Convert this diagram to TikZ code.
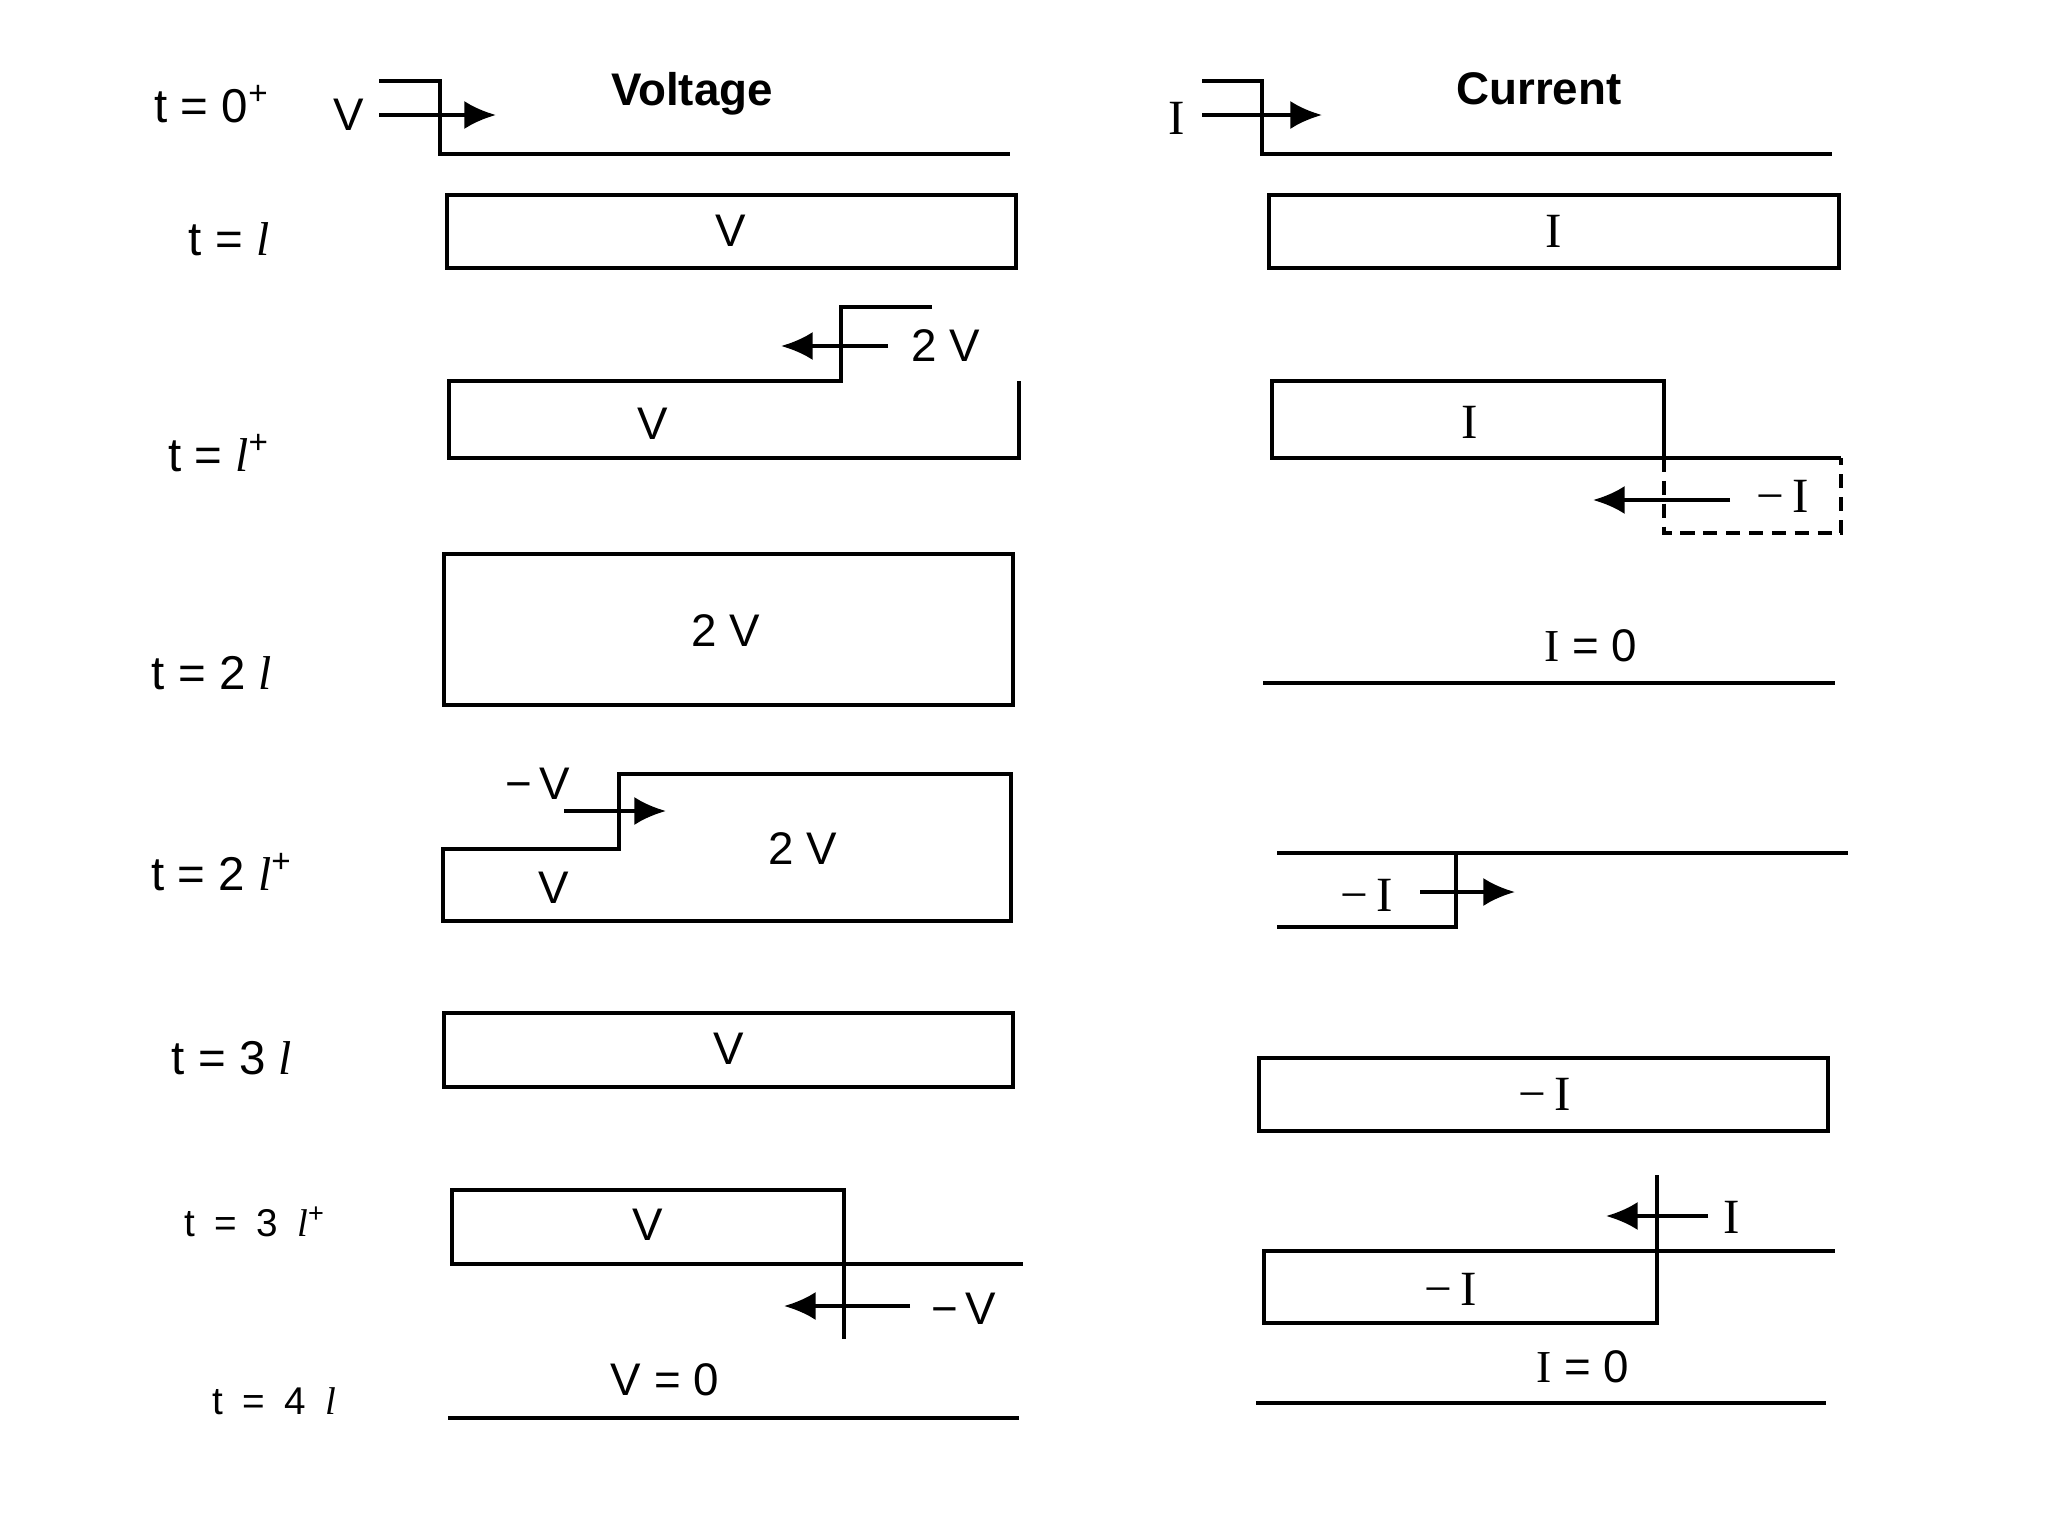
\documentclass[tikz,border=0pt]{standalone}
\usepackage{fontspec}
\setmainfont{Liberation Sans}
\newfontfamily\serf{Liberation Serif}
\usetikzlibrary{arrows.meta}
\newcommand{\lenl}{{\serf\itshape l}}
\newcommand{\wsp}{\hspace{0.5em}}

\begin{document}
\begin{tikzpicture}[x=0.01cm, y=-0.01cm, >={Latex[length=9pt,width=8pt]}, line width=1.15pt,
  refl/.style={dash pattern=on 4pt off 2.5pt},
  tlab/.style={font=\fontsize{13.5}{16}\selectfont},
  tsmall/.style={font=\fontsize{11}{13}\selectfont},
  vlab/.style={font=\fontsize{13}{15}\selectfont},
  ilab/.style={font=\serf\fontsize{14}{16}\selectfont},
  zlab/.style={font=\fontsize{13}{15}\selectfont},
  head/.style={font=\bfseries\fontsize{13}{15}\selectfont}]
  \useasboundingbox (0,0) rectangle (2048,1536);

  \node[head] (hvolt) at (692,94) {Voltage};
  \node[head] (hcurr) at (1539,89) {Current};

  \node[tlab] (t0) at (212,104) {t = 0\textsuperscript{+}};
  \node[vlab] (v0) at (349,115) {V};
  \draw (379,81) -- (440,81) -- (440,154) -- (1010,154);
  \draw[->] (379,115) -- (496,115);
  \node[ilab] (i0) at (1177,118) {I};
  \draw (1202,81) -- (1262,81) -- (1262,154) -- (1832,154);
  \draw[->] (1202,115) -- (1322,115);

  \node[tlab] (t1) at (229,239) {t = \lenl};
  \draw (447,195) rectangle (1016,268);
  \node[vlab] (v1) at (731,231) {V};
  \draw (1269,195) rectangle (1839,268);
  \node[ilab] (i1) at (1554,231) {I};

  \node[tlab] (t1p) at (219,453) {t = \lenl\textsuperscript{+}};
  \draw (932,307) -- (841,307) -- (841,381) -- (449,381) -- (449,458) -- (1019,458) -- (1019,381);
  \draw[->] (888,346) -- (781,346);
  \node[vlab] (v1r) at (946,346) {2 V};
  \node[vlab] (v1p) at (653,424) {V};
  \draw (1272,381) rectangle (1664,458);
  \draw (1664,458) -- (1841,458);
  \draw[refl] (1664,458) -- (1664,533) -- (1841,533) -- (1841,458);
  \draw[->] (1730,500) -- (1593,500);
  \node[ilab] (i1r) at (1783,496) {−\,I};
  \node[ilab] (i1p) at (1470,422) {I};

  \node[tlab] (t2) at (212,673) {t = 2 \lenl};
  \draw (444,554) rectangle (1013,705);
  \node[vlab] (v2) at (726,631) {2 V};
  \node[zlab] (i2) at (1591,646) {{\serf I} = 0};
  \draw (1263,683) -- (1835,683);

  \node[tlab] (t2p) at (222,872) {t = 2 \lenl\textsuperscript{+}};
  \draw (443,849) -- (619,849) -- (619,774) -- (1011,774) -- (1011,921) -- (443,921) -- cycle;
  \draw[->] (564,811) -- (666,811);
  \node[vlab] (v2r) at (538,784) {−\,V};
  \node[vlab] (v2a) at (554,888) {V};
  \node[vlab] (v2b) at (803,849) {2 V};
  \draw (1277,853) -- (1848,853);
  \draw (1277,927) -- (1456,927) -- (1456,853);
  \draw[->] (1420,892) -- (1515,892);
  \node[ilab] (i2r) at (1367,895) {−\,I};

  \node[tlab] (t3) at (232,1058) {t = 3 \lenl};
  \draw (444,1013) rectangle (1013,1087);
  \node[vlab] (v3) at (729,1049) {V};
  \draw (1259,1058) rectangle (1828,1131);
  \node[ilab] (i3) at (1545,1094) {−\,I};

  \node[tsmall] (t3p) at (255,1222) {t\wsp=\wsp3\wsp\lenl\textsuperscript{+}};
  \draw (844,1264) -- (844,1190) -- (452,1190) -- (452,1264) -- (1023,1264);
  \draw (844,1264) -- (844,1339);
  \draw[->] (910,1306) -- (784,1306);
  \node[vlab] (v3r) at (964,1309) {−\,V};
  \node[vlab] (v3p) at (648,1225) {V};
  \draw (1657,1251) -- (1657,1323) -- (1264,1323) -- (1264,1251) -- (1835,1251);
  \draw (1657,1251) -- (1657,1175);
  \draw[->] (1708,1216) -- (1606,1216);
  \node[ilab] (i3r) at (1732,1217) {I};
  \node[ilab] (i3p) at (1451,1289) {−\,I};

  \node[tsmall] (t4) at (274,1401) {t\wsp=\wsp4\wsp\lenl};
  \node[vlab] (v4) at (665,1380) {V = 0};
  \draw (448,1418) -- (1019,1418);
  \node[zlab] (i4) at (1583,1367) {{\serf I} = 0};
  \draw (1256,1403) -- (1826,1403);
\end{tikzpicture}
\end{document}
